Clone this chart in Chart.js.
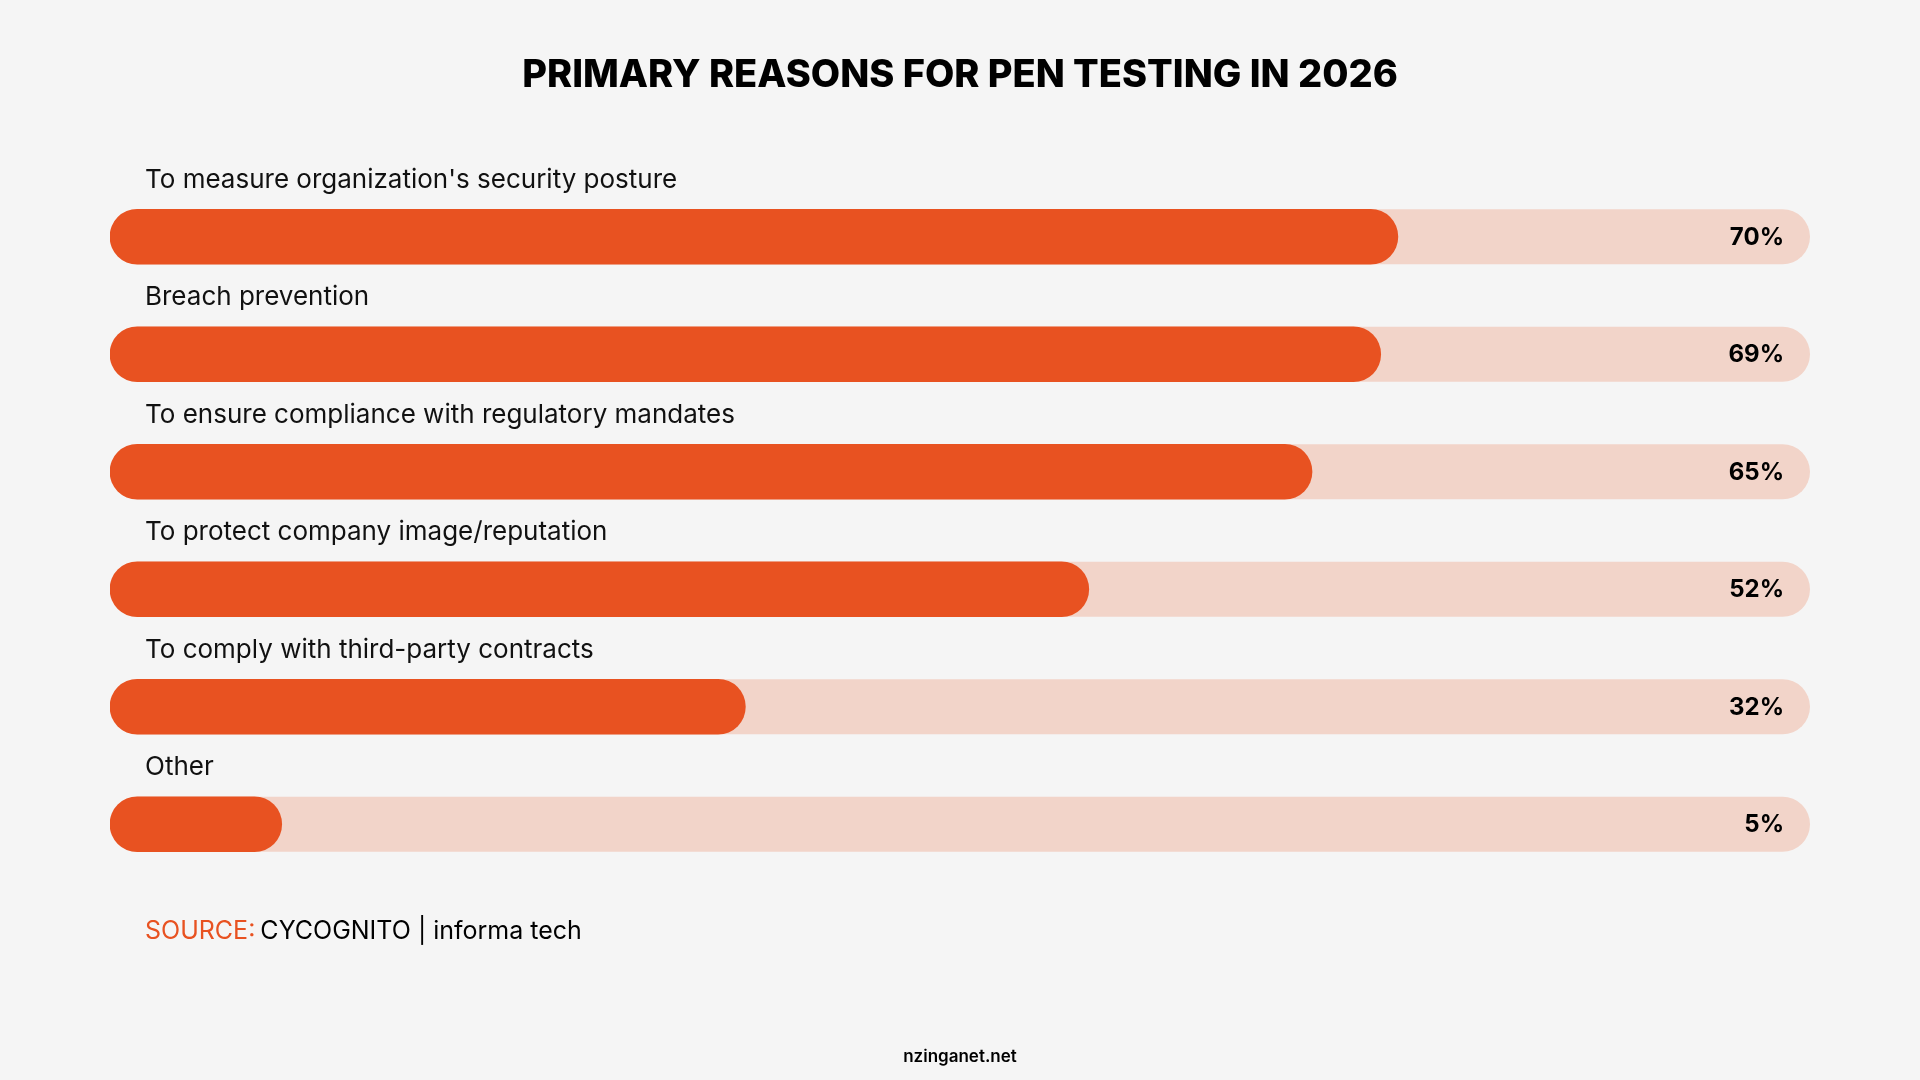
<!DOCTYPE html>
<html>
<head>
<meta charset="utf-8">
<title>Primary reasons for pen testing in 2026</title>
<script src="https://cdn.jsdelivr.net/npm/chart.js@4.4.1/dist/chart.umd.min.js"></script>
<style>
  html, body { margin: 0; padding: 0; background: #f5f5f5; }
  #wrap { position: relative; width: 1920px; height: 1080px; }
</style>
</head>
<body>
<div id="wrap"><canvas id="reasonsChart" width="1920" height="1080"></canvas></div>
<script>
// chart data
const reasons = [
  "To measure organization's security posture",
  'Breach prevention',
  'To ensure compliance with regulatory mandates',
  'To protect company image/reputation',
  'To comply with third-party contracts',
  'Other'
];
const shares = [70, 69, 65, 52, 32, 5];

const chartTitle = 'PRIMARY REASONS FOR PEN TESTING IN 2026';
const sourceLabel = 'SOURCE:';
const sourceText = 'CYCOGNITO | informa tech';
const footerText = 'nzinganet.net';

const ORANGE = '#e85221';
const TRACK = '#f2d4c9';
const FONT = 'Inter, "Open Sans", sans-serif';

// pale track behind each bar, full width of chart area
const trackPlugin = {
  id: 'tracks',
  beforeDatasetsDraw(chart) {
    const { ctx, chartArea } = chart;
    const meta = chart.getDatasetMeta(0);
    ctx.save();
    ctx.fillStyle = TRACK;
    meta.data.forEach(bar => {
      const h = bar.height;
      ctx.beginPath();
      ctx.roundRect(chartArea.left, bar.y - h / 2, chartArea.right - chartArea.left, h, h / 2);
      ctx.fill();
    });
    ctx.restore();
  }
};

// category names above bars, values at right end, title, source, footer
const textPlugin = {
  id: 'texts',
  afterDatasetsDraw(chart) {
    const { ctx, chartArea } = chart;
    const meta = chart.getDatasetMeta(0);
    ctx.save();
    meta.data.forEach((bar, i) => {
      ctx.fillStyle = '#111';
      ctx.font = '400 26px ' + FONT;
      ctx.textAlign = 'left';
      ctx.textBaseline = 'middle';
      ctx.fillText(reasons[i], 145, bar.y - 57);

      ctx.font = '700 24px ' + FONT;
      ctx.textAlign = 'right';
      ctx.fillStyle = '#000';
      ctx.fillText(shares[i] + '%', chartArea.right - 26, bar.y + 1);
    });

    // title
    ctx.font = '800 38px ' + FONT;
    ctx.textAlign = 'center';
    ctx.textBaseline = 'middle';
    ctx.fillStyle = '#000';
    ctx.fillText(chartTitle, 960, 76);

    // source line
    ctx.font = '400 25px ' + FONT;
    ctx.textAlign = 'left';
    ctx.fillStyle = ORANGE;
    ctx.fillText(sourceLabel, 145, 931);
    const w = ctx.measureText(sourceLabel + ' ').width;
    ctx.fillStyle = '#000';
    ctx.fillText(sourceText, 145 + w - 2, 931);

    // footer
    ctx.font = '600 17px ' + FONT;
    ctx.textAlign = 'center';
    ctx.fillStyle = '#000';
    ctx.fillText(footerText, 960, 1057);
    ctx.restore();
  }
};

new Chart(document.getElementById('reasonsChart'), {
  type: 'bar',
  data: {
    labels: reasons,
    datasets: [{
      data: shares,
      base: -5,
      backgroundColor: ORANGE,
      borderRadius: 28,
      borderSkipped: false,
      barThickness: 55
    }]
  },
  options: {
    indexAxis: 'y',
    responsive: false,
    animation: false,
    layout: { padding: { left: 110, right: 110, top: 178, bottom: 197 } },
    scales: {
      x: { display: false, min: -5, max: 94 },
      y: { display: false }
    },
    plugins: {
      legend: { display: false },
      tooltip: { enabled: false }
    }
  },
  plugins: [trackPlugin, textPlugin]
});
</script>
</body>
</html>
